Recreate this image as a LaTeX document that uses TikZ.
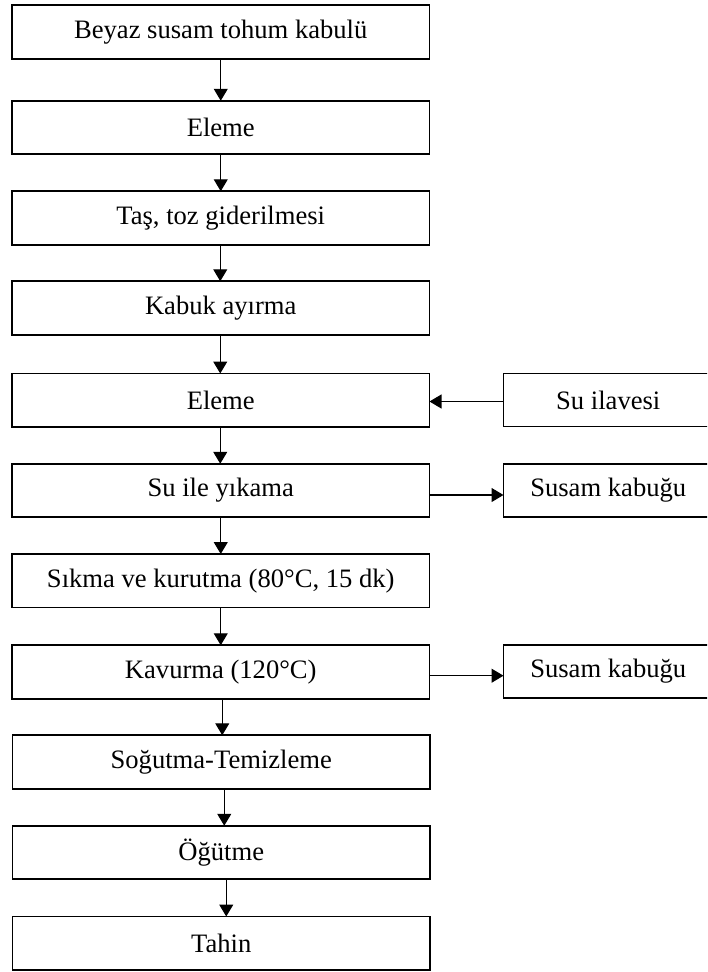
\documentclass[tikz,border=0pt]{standalone}
\usepackage{fontspec}
\setmainfont{Liberation Serif}
\usetikzlibrary{arrows.meta,calc}
\begin{document}
\begin{tikzpicture}[x=1pt,y=1pt,
  mainbox/.style={draw,line width=1.8pt,minimum width=417.5pt,minimum height=53.5pt,inner sep=0pt,outer sep=0pt,font=\fontsize{26.6}{32}\selectfont},
  sidebox/.style={draw,line width=1.8pt,minimum width=209.5pt,minimum height=53pt,inner sep=0pt,outer sep=0pt,font=\fontsize{26.6}{32}\selectfont},
  arr/.style={line width=1.1pt,-{Triangle[width=14pt,length=12pt]}}]
\useasboundingbox (0,0) rectangle (707,-972);
\clip (0,0) rectangle (707,-972);
\node[mainbox] (a) at (220.75,-32) {Beyaz susam tohum kabulü};
\node[mainbox] (b) at (220.75,-127.5) {Eleme};
\node[mainbox] (c) at (220.75,-218) {Taş, toz giderilmesi};
\node[mainbox] (d) at (220.75,-308) {Kabuk ayırma};
\node[mainbox] (e) at (220.75,-400.25) {Eleme};
\node[mainbox] (f) at (220.75,-490.5) {Su ile yıkama};
\node[mainbox] (g) at (220.75,-580.75) {Sıkma ve kurutma (80°C, 15 dk)};
\node[mainbox] (h) at (220.75,-672) {Kavurma (120°C)};
\node[mainbox] (i) at (221.25,-762) {Soğutma-Temizleme};
\node[mainbox] (j) at (221.25,-852.5) {Öğütme};
\node[mainbox] (k) at (221.25,-943.25) {Tahin};
\node[sidebox] (su) at (608.25,-400) {Su ilavesi};
\node[sidebox] (s1) at (608.25,-490.5) {Susam kabuğu};
\node[sidebox] (s2) at (608.25,-671.5) {Susam kabuğu};
\draw[arr] (a.south) -- (b.north);
\draw[arr] (b.south) -- (c.north);
\draw[arr] ([xshift=-0.5pt]c.south) -- ([xshift=-0.5pt]d.north);
\draw[arr] ([xshift=-0.5pt]d.south) -- ([xshift=-0.5pt]e.north);
\draw[arr] ([xshift=-0.5pt]e.south) -- ([xshift=-0.5pt]f.north);
\draw[arr] (f.south) -- (g.north);
\draw[arr] (g.south) -- (h.north);
\draw[arr] ([xshift=1.5pt]h.south) -- ([xshift=1pt]i.north);
\draw[arr] ([xshift=3pt]i.south) -- ([xshift=3pt]j.north);
\draw[arr] ([xshift=5pt]j.south) -- ([xshift=5pt]k.north);
\coordinate (p1) at ([yshift=-1.5pt]su.west);
\draw[arr] (p1) -- (p1 -| e.east);
\coordinate (p2) at ([yshift=-4.5pt]f.east);
\draw[arr] (p2) -- (p2 -| s1.west);
\coordinate (p3) at ([yshift=-3.7pt]h.east);
\draw[arr] (p3) -- (p3 -| s2.west);
\end{tikzpicture}
\end{document}
